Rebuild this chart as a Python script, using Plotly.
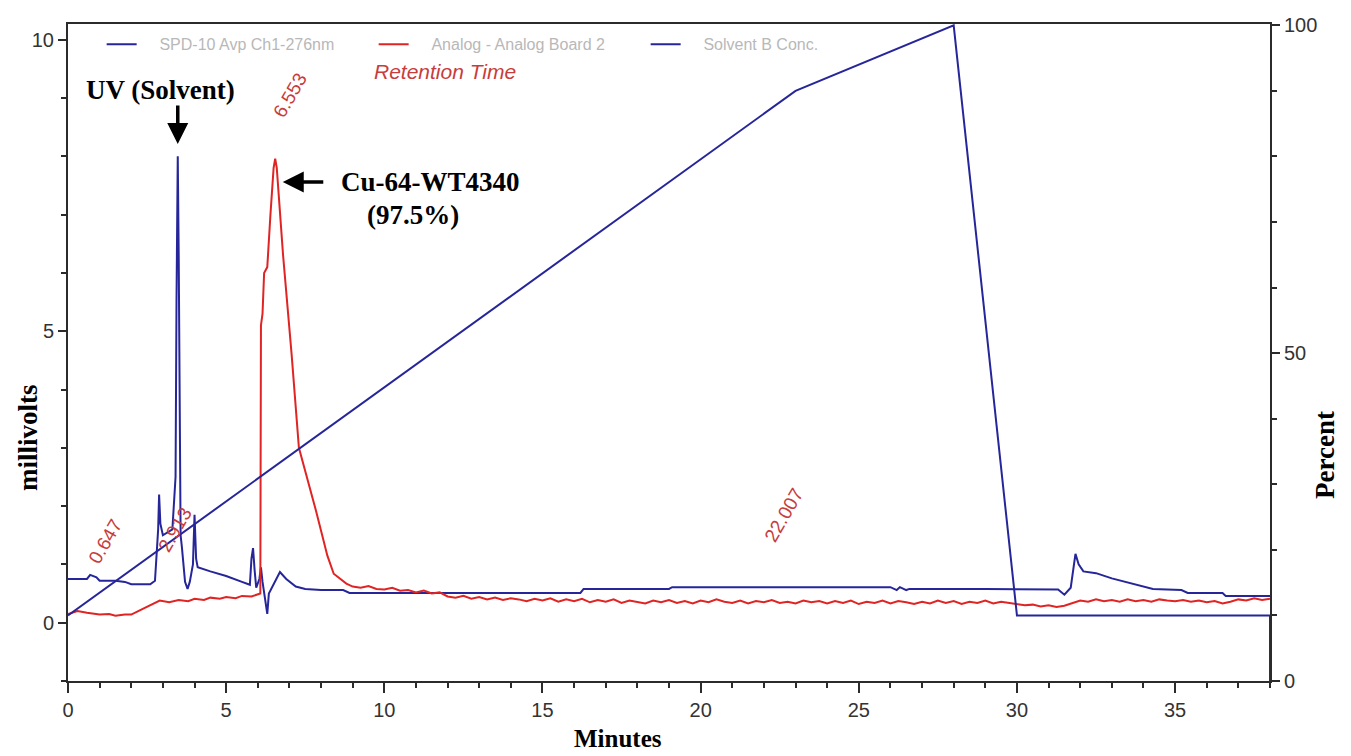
import plotly.graph_objects as go

# ---------------- data ----------------
uv_t = [0.0, 0.6, 0.7, 0.9, 1.0, 1.5, 1.8, 2.0, 2.6, 2.75, 2.85, 2.88, 2.92, 3.0, 3.3,
        3.40, 3.43, 3.45, 3.47, 3.50, 3.53, 3.56, 3.6, 3.7, 3.78, 3.85, 3.95, 4.0, 4.05,
        4.1, 4.5, 5.0, 5.5, 5.75, 5.8, 5.85, 5.9, 5.95, 6.05, 6.1, 6.15, 6.2, 6.3, 6.35,
        6.5, 6.7, 6.9, 7.2, 7.5, 8.0, 8.7, 8.9, 12.0, 16.2, 16.3, 19.0, 19.1, 26.0, 26.2,
        26.3, 26.5, 26.6, 29.0, 31.3, 31.5, 31.7, 31.85, 31.95, 32.1, 32.5, 33.0, 33.5,
        34.0, 34.3, 35.2, 35.4, 36.5, 36.6, 38.0]
uv_mv = [0.75, 0.75, 0.82, 0.78, 0.72, 0.72, 0.70, 0.66, 0.66, 0.72, 1.6, 2.2, 1.7, 1.5, 1.6,
         2.5, 5.5, 6.3, 8.0, 6.3, 3.0, 1.5, 1.3, 0.7, 0.58, 0.7, 1.0, 1.85, 1.1,
         0.95, 0.88, 0.80, 0.70, 0.65, 1.1, 1.28, 0.9, 0.6, 0.75, 0.95, 0.7, 0.5, 0.15, 0.5,
         0.65, 0.87, 0.75, 0.62, 0.58, 0.56, 0.56, 0.51, 0.51, 0.51, 0.58, 0.58, 0.61, 0.61, 0.56,
         0.61, 0.56, 0.58, 0.58, 0.57, 0.48, 0.60, 1.18, 1.0, 0.88, 0.85, 0.76, 0.69,
         0.63, 0.58, 0.56, 0.51, 0.51, 0.46, 0.46]

red_t = [0.0, 0.3, 0.6, 1.0, 1.3, 1.5, 1.8, 2.0, 2.3, 2.6, 2.9, 3.2, 3.5, 3.8, 4.0, 4.3,
         4.5, 4.8, 5.0, 5.3, 5.5, 5.8, 5.95, 6.08, 6.1, 6.15, 6.2, 6.3, 6.4, 6.5, 6.55,
         6.6, 6.8, 7.07, 7.3, 7.5, 7.85, 8.2, 8.4, 8.8,
         9.00, 9.25, 9.50, 9.75, 10.00, 10.25, 10.50, 10.75, 11.00, 11.25, 11.50, 11.75,
         12.00, 12.25, 12.50, 12.75, 13.00, 13.25, 13.50, 13.75, 14.00, 14.25, 14.50, 14.75,
         15.00, 15.25, 15.50, 15.75, 16.00, 16.25, 16.50, 16.75, 17.00, 17.25, 17.50, 17.75,
         18.00, 18.25, 18.50, 18.75, 19.00, 19.25, 19.50, 19.75, 20.00, 20.25, 20.50, 20.75,
         21.00, 21.25, 21.50, 21.75, 22.00, 22.25, 22.50, 22.75, 23.00, 23.25, 23.50, 23.75,
         24.00, 24.25, 24.50, 24.75, 25.00, 25.25, 25.50, 25.75, 26.00, 26.25, 26.50, 26.75,
         27.00, 27.25, 27.50, 27.75, 28.00, 28.25, 28.50, 28.75, 29.00, 29.25, 29.50, 29.75,
         30.00, 30.25, 30.50, 30.75, 31.00, 31.25, 31.50, 31.75, 32.00, 32.25, 32.50, 32.75,
         33.00, 33.25, 33.50, 33.75, 34.00, 34.25, 34.50, 34.75, 35.00, 35.25, 35.50, 35.75,
         36.00, 36.25, 36.50, 36.75, 37.00, 37.25, 37.50, 37.75, 38.00]
red_mv = [0.15, 0.20, 0.17, 0.14, 0.15, 0.12, 0.14, 0.14, 0.22, 0.30, 0.38, 0.35, 0.39, 0.37, 0.41, 0.39,
          0.43, 0.41, 0.44, 0.42, 0.46, 0.45, 0.48, 0.50, 5.1, 5.3, 6.0, 6.1, 7.0, 7.8, 7.96,
          7.8, 6.3, 4.6, 3.0, 2.6, 1.9, 1.15, 0.84, 0.67,
          0.62, 0.60, 0.63, 0.58, 0.57, 0.60, 0.55, 0.56, 0.52, 0.55, 0.50, 0.52,
          0.45, 0.43, 0.46, 0.41, 0.44, 0.40, 0.43, 0.39, 0.42, 0.40, 0.37, 0.41,
          0.38, 0.42, 0.36, 0.40, 0.37, 0.41, 0.35, 0.39, 0.36, 0.40, 0.34, 0.38,
          0.36, 0.33, 0.38, 0.35, 0.39, 0.34, 0.37, 0.33, 0.38, 0.35, 0.40, 0.36,
          0.34, 0.38, 0.33, 0.37, 0.35, 0.39, 0.34, 0.36, 0.33, 0.38, 0.35, 0.37,
          0.33, 0.37, 0.34, 0.38, 0.32, 0.36, 0.34, 0.38, 0.33, 0.37, 0.35, 0.32,
          0.36, 0.33, 0.38, 0.34, 0.37, 0.32, 0.36, 0.34, 0.38, 0.33, 0.36, 0.34,
          0.32, 0.30, 0.31, 0.28, 0.30, 0.27, 0.29, 0.33, 0.38, 0.36, 0.40, 0.37,
          0.39, 0.36, 0.40, 0.37, 0.39, 0.36, 0.40, 0.38, 0.37, 0.39, 0.36, 0.38,
          0.35, 0.37, 0.33, 0.36, 0.40, 0.38, 0.42, 0.39, 0.41]

grad_t = [0.0, 23.0, 28.0, 30.0, 38.0, 38.0]
grad_pct = [10.0, 90.0, 100.0, 10.0, 10.0, 0.0]

x_ticks = [0, 5, 10, 15, 20, 25, 30, 35]
left_ticks = [0, 5, 10]
right_ticks = [0, 50, 100]

rt_labels = ["0.647", "2.913", "6.553", "22.007"]
rt_label_t = [1.17, 3.38, 7.01, 22.65]
rt_label_y = [1.40, 1.60, 9.05, 1.85]

# ---------------- figure ----------------
BLUE = "#26269a"
RED = "#e02424"
LBL_RED = "#c83c3c"
AX = "#2b2b2b"
SERIF = "Liberation Serif, Times New Roman, serif"
SANS = "Liberation Sans Narrow, Arial Narrow, Liberation Sans, Arial, sans-serif"
PAD = "\u00a0\u00a0\u00a0\u00a0"

fig = go.Figure()
fig.add_trace(go.Scatter(x=uv_t, y=uv_mv, mode="lines", name=PAD + "SPD-10 Avp Ch1-276nm",
                         line=dict(color=BLUE, width=2)))
fig.add_trace(go.Scatter(x=red_t, y=red_mv, mode="lines", name=PAD + "Analog - Analog Board 2",
                         line=dict(color=RED, width=2)))
fig.add_trace(go.Scatter(x=grad_t, y=grad_pct, mode="lines", name=PAD + "Solvent B Conc.",
                         line=dict(color=BLUE, width=2), yaxis="y2"))

ann = []
for txt, t, y in zip(rt_labels, rt_label_t, rt_label_y):
    ann.append(dict(x=t, y=y, xref="x", yref="y", text=txt, showarrow=False,
                    textangle=-60, font=dict(family="Liberation Sans, Arial", size=19, color=LBL_RED)))
ann += [
    dict(x=11.91, y=9.45, xref="x", yref="y", text="<i>Retention Time</i>", showarrow=False,
         font=dict(family=SANS, size=21, color=LBL_RED)),
    dict(x=2.91, y=9.14, xref="x", yref="y", text="<b>UV (Solvent)</b>", showarrow=False,
         font=dict(family=SERIF, size=27, color="black")),
    dict(x=3.47, y=8.21, xref="x", yref="y", text="", showarrow=True, ax=0, ay=-40,
         arrowhead=2, arrowsize=1.2, arrowwidth=3.5, arrowcolor="black"),
    dict(x=11.47, y=7.56, xref="x", yref="y", text="<b>Cu-64-WT4340</b>", showarrow=False,
         font=dict(family=SERIF, size=27, color="black")),
    dict(x=10.9, y=6.99, xref="x", yref="y", text="<b>(97.5%)</b>", showarrow=False,
         font=dict(family=SERIF, size=27, color="black")),
    dict(x=6.79, y=7.56, xref="x", yref="y", text="", showarrow=True, ax=42, ay=0,
         arrowhead=2, arrowsize=1.2, arrowwidth=3.5, arrowcolor="black"),
    dict(x=0, y=0.37, xref="paper", yref="paper", text="<b>millivolts</b>", showarrow=False,
         xanchor="center", yanchor="middle",
         textangle=-90, xshift=-40, font=dict(family=SERIF, size=27, color="black")),
    dict(x=1, y=0.344, xref="paper", yref="paper", text="<b>Percent</b>", showarrow=False,
         xanchor="center", yanchor="middle",
         textangle=-90, xshift=55, font=dict(family=SERIF, size=27, color="black")),
    dict(x=0.4576, y=0, xref="paper", yref="paper", text="<b>Minutes</b>", showarrow=False,
         xanchor="center", yanchor="middle", borderpad=0,
         yshift=-57, font=dict(family=SERIF, size=25, color="black")),
]

fig.update_layout(
    width=1351, height=756,
    margin=dict(l=68, r=81, t=24, b=75),
    paper_bgcolor="white", plot_bgcolor="white",
    showlegend=True,
    legend=dict(orientation="h", x=0.028, y=0.995, xanchor="left", yanchor="top",
                entrywidth=227, entrywidthmode="pixels", bgcolor="rgba(0,0,0,0)",
                font=dict(family=SANS, size=16, color="#b8b8b8"), tracegroupgap=0),
    xaxis=dict(range=[0, 38], tickvals=x_ticks, ticks="outside", ticklen=10, tickwidth=2,
               tickcolor=AX, showline=True, linecolor=AX, linewidth=2, mirror=True,
               showgrid=False, zeroline=False,
               tickfont=dict(family=SANS, size=20, color="#333"),
               minor=dict(dtick=1, ticks="outside", ticklen=5, tickwidth=1.5, tickcolor=AX)),
    yaxis=dict(range=[-1, 10.27], tickvals=left_ticks, ticks="outside", ticklen=8, tickwidth=2,
               tickcolor=AX, showline=True, linecolor=AX, linewidth=2, showgrid=False,
               zeroline=False, tickfont=dict(family=SANS, size=20, color="#333"),
               minor=dict(tickvals=[-1, 1, 2, 3, 4, 6, 7, 8, 9], ticks="outside", ticklen=5,
                          tickwidth=1.5, tickcolor=AX)),
    yaxis2=dict(range=[0, 100.2], overlaying="y", side="right", tickvals=right_ticks,
                ticks="outside", ticklen=8, tickwidth=2, tickcolor=AX, showline=True,
                linecolor=AX, linewidth=2, showgrid=False, zeroline=False,
                tickfont=dict(family=SANS, size=20, color="#333"),
                minor=dict(tickvals=[10, 20, 30, 40, 60, 70, 80, 90], ticks="outside",
                           ticklen=5, tickwidth=1.5, tickcolor=AX)),
    annotations=ann,
)

fig.write_html("out.html", config={"displayModeBar": False},
               post_script="document.body.style.margin='0px';")
